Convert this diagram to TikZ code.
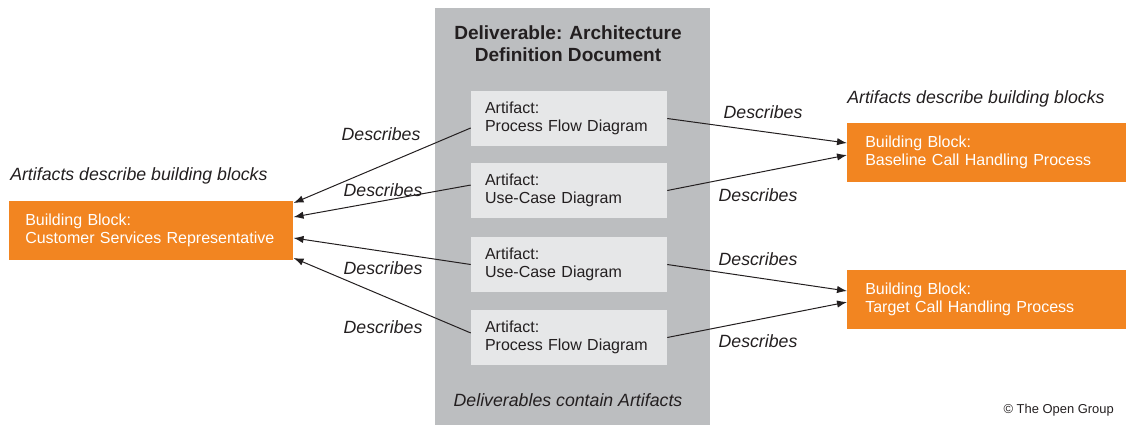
\documentclass[tikz,border=0pt]{standalone}
\usepackage{fontspec}
\setmainfont{Liberation Sans}
\usetikzlibrary{arrows.meta}
\definecolor{tgorange}{HTML}{F28521}
\definecolor{tggrey}{HTML}{BCBEC0}
\definecolor{tglight}{HTML}{E6E7E8}
\definecolor{tgink}{HTML}{231F20}

\begin{document}
\begin{tikzpicture}[x=0.75pt,y=-0.75pt,
every node/.style={text=tgink},
mycap/.style={inner sep=0pt, font=\fontsize{13.3}{16}\selectfont\itshape}, % my basic caption style
artifact/.style={fill=tglight, minimum height=41.25pt, text width=126pt, inner xsep=10.5pt, align=left, font=\fontsize{12}{13.5}\selectfont}, % artifacts in the deliverable
block/.style={fill=tgorange, text=white, minimum height=44.25pt, inner xsep=13.5pt, align=left, anchor=west, font=\fontsize{12}{13.5}\selectfont}, % building blocks
describes/.style={draw=tgink, line width=0.75pt, -{Latex[length=7.5pt,width=5.5pt]}} % artifact describes block
]

\useasboundingbox (0,0) rectangle (1126,425);

\node[fill=tggrey, minimum width=206.25pt, minimum height=312.75pt, inner sep=0pt] (deliv) at (572.5,216.5) {};
\node[inner sep=0pt, align=center, font=\fontsize{14.3}{16.5}\selectfont\bfseries] (title) at (568,44) {Deliverable: Architecture\\Definition Document};
\node[mycap] (contain) at (568,400) {Deliverables contain Artifacts};

\node[artifact] (pfd1) at (569,118.5) {Artifact:\\Process Flow Diagram};
\node[artifact] (ucd1) at (569,190.5) {Artifact:\\Use-Case Diagram};
\node[artifact] (ucd2) at (569,264.5) {Artifact:\\Use-Case Diagram};
\node[artifact] (pfd2) at (569,337.5) {Artifact:\\Process Flow Diagram};

\node[block, text width=189pt, inner xsep=12pt] (csr) at (9,230.5) {Building Block:\\Customer Services Representative};
\node[block, text width=182.25pt] (baseline) at (847,152.5) {Building Block:\\Baseline Call Handling Process};
\node[block, text width=182.25pt] (target) at (847,299) {Building Block:\\Target Call Handling Process};

\node[mycap, anchor=west] (leftcap) at (10,176) {Artifacts describe building blocks};
\node[mycap, anchor=west] (rightcap) at (847,99) {Artifacts describe building blocks};

\draw[describes] ([yshift=-7.1pt]pfd1.west) -- ([yshift=20.6pt]csr.east);
\draw[describes] ([yshift=4.1pt]ucd1.west) -- ([yshift=10.1pt]csr.east);
\draw[describes] (ucd2.west) -- ([yshift=-5.6pt]csr.east);
\draw[describes] ([yshift=3.4pt]pfd2.west) -- ([yshift=-20.6pt]csr.east);
\draw[describes] (pfd1.east) -- ([yshift=7.1pt]baseline.west);
\draw[describes] (ucd1.east) -- ([yshift=-1.9pt]baseline.west);
\draw[describes] (ucd2.east) -- ([yshift=6pt]target.west);
\draw[describes] (pfd2.east) -- ([yshift=-2.3pt]target.west);

\node[mycap] (d1) at (381,134) {Describes};
\node[mycap] (d2) at (383,190) {Describes};
\node[mycap] (d3) at (383,268) {Describes};
\node[mycap] (d4) at (383,327) {Describes};
\node[mycap] (d5) at (763,112) {Describes};
\node[mycap] (d6) at (758,195) {Describes};
\node[mycap] (d7) at (758,259) {Describes};
\node[mycap] (d8) at (758,341) {Describes};

\node[inner sep=0pt, anchor=east, font=\fontsize{9.7}{11}\selectfont] (copy) at (1114,410) {© The Open Group};

\end{tikzpicture}
\end{document}
